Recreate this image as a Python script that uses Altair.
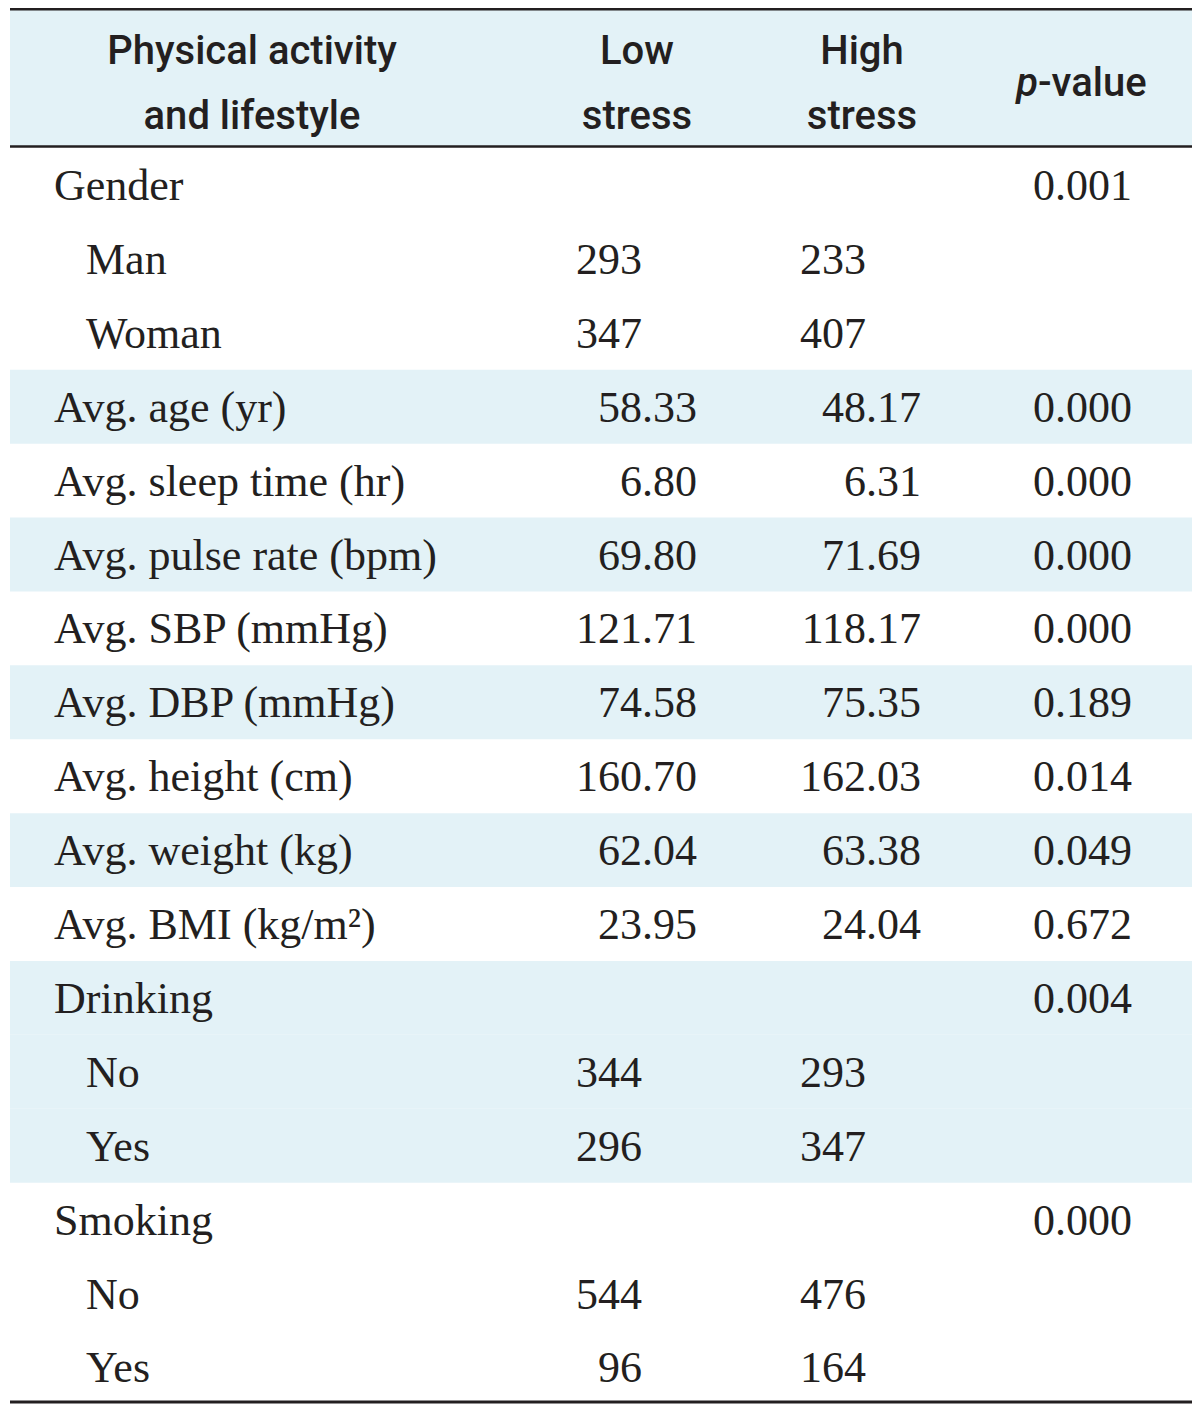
import altair as alt
import pandas as pd

labels = ["Gender", "Man", "Woman", "Avg. age (yr)", "Avg. sleep time (hr)",
          "Avg. pulse rate (bpm)", "Avg. SBP (mmHg)", "Avg. DBP (mmHg)",
          "Avg. height (cm)", "Avg. weight (kg)", "Avg. BMI (kg/m\u00b2)",
          "Drinking", "No", "Yes", "Smoking", "No", "Yes"]
indent = [0, 1, 1, 0, 0, 0, 0, 0, 0, 0, 0, 0, 1, 1, 0, 1, 1]
low_stress = ["", "293", "347", "58.33", "6.80", "69.80", "121.71", "74.58",
              "160.70", "62.04", "23.95", "", "344", "296", "", "544", "96"]
high_stress = ["", "233", "407", "48.17", "6.31", "71.69", "118.17", "75.35",
               "162.03", "63.38", "24.04", "", "293", "347", "", "476", "164"]
p_values = ["0.001", "", "", "0.000", "0.000", "0.000", "0.000", "0.189",
            "0.014", "0.049", "0.672", "0.004", "", "", "0.000", "", ""]
shaded_rows = [3, 5, 7, 9, 11, 12, 13]
header_label = ["Physical activity", "and lifestyle"]
header_low = ["Low", "stress"]
header_high = ["High", "stress"]
header_p = ["p", "-value"]

# ---------------- layout ----------------
ROW_H = 73.9
ROW0 = 185.0
def u(py):
    return (py - ROW0) / ROW_H

W, H = 1184, 1399
Y_DOMAIN = [u(8), u(1407)]
TEXT = "#231f20"
SHADE = "#e3f2f7"
SERIF = "Liberation Serif"
SANS = "Roboto, Noto Sans"
HDR_SIZE = 40
HDR_WEIGHT = 500

col_keys = ["edgeL", "lab0", "lab1", "h_lab", "h_low", "low_n", "low_d",
            "h_high", "high_n", "high_d", "h_split", "p", "edgeR"]
col_px = [2, 46, 78, 244, 629, 634, 689, 854, 858, 913, 1030, 1124, 1184]
XI = {k: i for i, k in enumerate(col_keys)}

x_scale = alt.Scale(domain=list(range(len(col_keys))), range=col_px, nice=False, zero=False)
y_scale = alt.Scale(domain=Y_DOMAIN, reverse=True, nice=False, zero=False)

def X(field="xi"):
    return alt.X(f"{field}:Q", scale=x_scale, axis=None)

def Y(field="yu"):
    return alt.Y(f"{field}:Q", scale=y_scale, axis=None)

# ---------------- tables built from the arrays ----------------
left_rows, right_rows = [], []
for r, lab in enumerate(labels):
    left_rows.append({"row": r, "text": lab, "xi": XI["lab1" if indent[r] else "lab0"]})
    for val, (kn, kd) in ((low_stress[r], ("low_n", "low_d")),
                          (high_stress[r], ("high_n", "high_d"))):
        if val:
            right_rows.append({"row": r, "text": val, "xi": XI[kd if "." in val else kn]})
    if p_values[r]:
        right_rows.append({"row": r, "text": p_values[r], "xi": XI["p"]})
left_df = pd.DataFrame(left_rows)
right_df = pd.DataFrame(right_rows)

band_df = pd.DataFrame({"row": shaded_rows, "xa": XI["edgeL"], "xb": XI["edgeR"]})
header_band_df = pd.DataFrame({"xa": [XI["edgeL"]], "xb": [XI["edgeR"]],
                               "ya": [u(8)], "yb": [u(146)]})

hdr_line1, hdr_line2, hdr_mid = u(64), u(129), u(96)
header_df = pd.DataFrame([
    {"text": header_label[0], "xi": XI["h_lab"], "yu": hdr_line1},
    {"text": header_label[1], "xi": XI["h_lab"], "yu": hdr_line2},
    {"text": header_low[0], "xi": XI["h_low"], "yu": hdr_line1},
    {"text": header_low[1], "xi": XI["h_low"], "yu": hdr_line2},
    {"text": header_high[0], "xi": XI["h_high"], "yu": hdr_line1},
    {"text": header_high[1], "xi": XI["h_high"], "yu": hdr_line2},
])
p_italic_df = pd.DataFrame([{"text": header_p[0], "xi": XI["h_split"], "yu": hdr_mid}])
p_rest_df = pd.DataFrame([{"text": header_p[1], "xi": XI["h_split"], "yu": hdr_mid}])

thin_rules = pd.DataFrame({"xa": XI["edgeL"], "xb": XI["edgeR"], "yu": [u(9.2), u(146.5)]})
thick_rules = pd.DataFrame({"xa": [XI["edgeL"]], "xb": [XI["edgeR"]], "yu": [u(1402)]})

# ---------------- layers ----------------
bands = alt.Chart(band_df).transform_calculate(
    ya="datum.row - 0.5", yb="datum.row + 0.5"
).mark_rect(color=SHADE).encode(x=X("xa"), x2="xb:Q", y=Y("ya"), y2="yb:Q")

header_band = alt.Chart(header_band_df).mark_rect(color=SHADE).encode(
    x=X("xa"), x2="xb:Q", y=Y("ya"), y2="yb:Q")

rules_thin = alt.Chart(thin_rules).mark_rule(color=TEXT, strokeWidth=2.4).encode(
    x=X("xa"), x2="xb:Q", y=Y("yu"))
rules_thick = alt.Chart(thick_rules).mark_rule(color=TEXT, strokeWidth=3).encode(
    x=X("xa"), x2="xb:Q", y=Y("yu"))

body_left = alt.Chart(left_df).mark_text(
    align="left", baseline="alphabetic", dy=15, font=SERIF, fontSize=44, color=TEXT
).encode(x=X("xi"), y=Y("row"), text="text:N")

body_right = alt.Chart(right_df).mark_text(
    align="right", baseline="alphabetic", dy=15, font=SERIF, fontSize=44, color=TEXT
).encode(x=X("xi"), y=Y("row"), text="text:N")

header_text = alt.Chart(header_df).mark_text(
    align="center", baseline="alphabetic", font=SANS, fontSize=HDR_SIZE,
    fontWeight=HDR_WEIGHT, color=TEXT
).encode(x=X("xi"), y=Y("yu"), text="text:N")

p_it = alt.Chart(p_italic_df).mark_text(
    align="right", baseline="alphabetic", font=SANS, fontSize=HDR_SIZE,
    fontWeight=HDR_WEIGHT, fontStyle="italic", color=TEXT
).encode(x=X("xi"), y=Y("yu"), text="text:N")

p_rest = alt.Chart(p_rest_df).mark_text(
    align="left", baseline="alphabetic", font=SANS, fontSize=HDR_SIZE,
    fontWeight=HDR_WEIGHT, color=TEXT
).encode(x=X("xi"), y=Y("yu"), text="text:N")

chart = alt.layer(
    header_band, bands, rules_thin, rules_thick,
    body_left, body_right, header_text, p_it, p_rest
).properties(
    width=W, height=H, padding=0, autosize="none", background="white"
).configure_view(stroke=None)

chart.save("out.html", embed_options={"renderer": "svg", "actions": False})
